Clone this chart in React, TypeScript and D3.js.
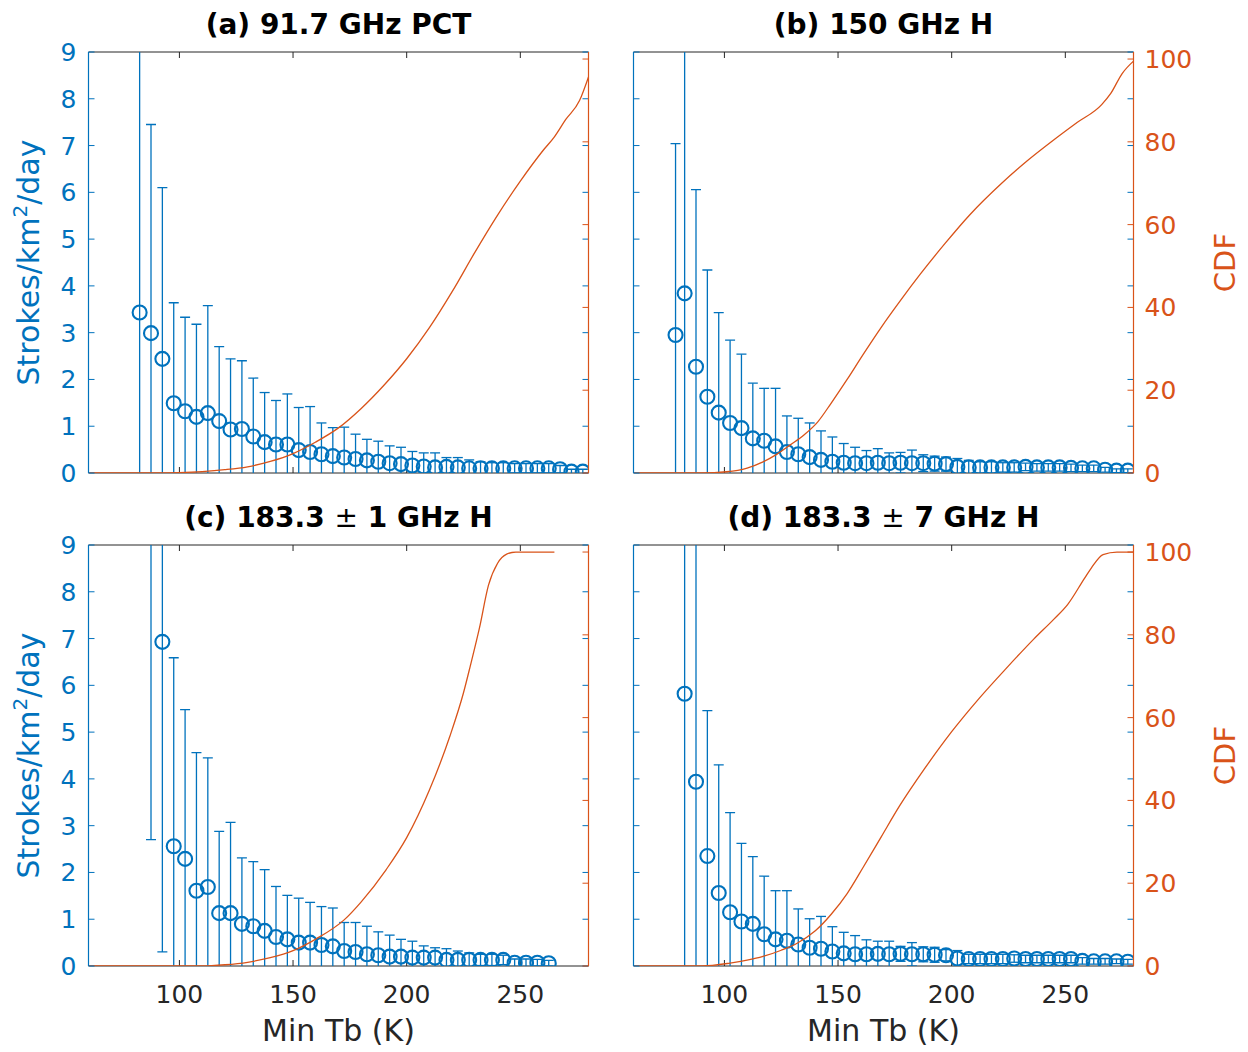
import * as d3 from 'd3'

const BLUE = '#0072BD'
const ORANGE = '#D95319'
const AXIS = '#262626'
const FONT = '"DejaVu Sans", sans-serif'

// bin centres of min Tb (K), shared by all four panels
const tbBins = [78.5, 82.5, 87.5, 92.5, 97.5, 102.5, 107.5, 112.5, 117.5, 122.5, 127.5, 132.5, 137.5, 142.5, 147.5, 152.5, 157.5, 162.5, 167.5, 172.5, 177.5, 182.5, 187.5, 192.5, 197.5, 202.5, 207.5, 212.5, 217.5, 222.5, 227.5, 232.5, 237.5, 242.5, 247.5, 252.5, 257.5, 262.5, 267.5, 272.5, 277.5]

// (a) 91.7 GHz PCT
const rateA = [null, 3.43, 2.99, 2.44, 1.49, 1.32, 1.2, 1.28, 1.11, 0.93, 0.94, 0.78, 0.66, 0.61, 0.61, 0.49, 0.45, 0.4, 0.36, 0.33, 0.3, 0.27, 0.24, 0.21, 0.19, 0.16, 0.14, 0.12, 0.13, 0.12, 0.1, 0.1, 0.1, 0.1, 0.1, 0.1, 0.1, 0.1, 0.08, 0.03, 0.03]
const errA = [null, 7.0, 4.46, 3.66, 2.15, 2.01, 1.98, 2.3, 1.59, 1.51, 1.46, 1.25, 1.06, 0.94, 1.08, 0.91, 0.97, 0.67, 0.61, 0.65, 0.53, 0.45, 0.44, 0.37, 0.36, 0.3, 0.29, 0.31, 0.2, 0.21, 0.18, 0.14, 0.12, 0.12, 0.1, 0.1, 0.1, 0.1, 0.08, 0.05, 0.05]
const cdfTbA = [60, 90, 100, 110, 120, 130, 140, 150, 160, 170, 180, 190, 200, 210, 220, 230, 240, 250, 260, 265, 270, 276, 280]
const cdfA = [0, 0, 0.1, 0.35, 0.8, 1.5, 2.8, 4.7, 7.5, 10.9, 15.6, 21.2, 27.6, 35.1, 43.8, 53.3, 62.3, 70.5, 77.9, 81.2, 85.4, 89.9, 95.7]

// (b) 150 GHz H
const rateB = [2.95, 3.84, 2.27, 1.63, 1.29, 1.07, 0.96, 0.74, 0.69, 0.57, 0.45, 0.4, 0.34, 0.28, 0.24, 0.22, 0.21, 0.21, 0.22, 0.21, 0.22, 0.21, 0.21, 0.2, 0.19, 0.13, 0.12, 0.12, 0.12, 0.12, 0.12, 0.13, 0.12, 0.12, 0.12, 0.11, 0.1, 0.1, 0.07, 0.05, 0.05]
const errB = [4.09, 6.5, 3.79, 2.71, 2.14, 1.77, 1.58, 1.18, 1.12, 1.24, 0.77, 0.77, 0.73, 0.62, 0.53, 0.41, 0.34, 0.27, 0.3, 0.22, 0.22, 0.28, 0.18, 0.16, 0.15, 0.18, 0.15, 0.12, 0.12, 0.1, 0.1, 0.08, 0.08, 0.08, 0.08, 0.08, 0.07, 0.07, 0.05, 0.04, 0.04]
const cdfTbB = [60, 90, 101, 110, 117, 123, 129, 135, 141, 147, 154, 161, 169, 177.5, 186, 197, 208, 222, 233, 245, 255, 266, 270, 275, 280]
const cdfB = [0, 0, 0.3, 1.2, 2.7, 4.5, 6.8, 9.2, 12.3, 16.9, 22.6, 28.6, 35.2, 41.7, 47.9, 55.4, 62.4, 70.0, 75.3, 80.5, 84.6, 89.0, 91.7, 96.5, 99.5]

// (c) 183.3 ± 1 GHz H
const rateC = [null, null, 11.0, 6.93, 2.56, 2.29, 1.61, 1.69, 1.13, 1.13, 0.9, 0.85, 0.75, 0.62, 0.57, 0.5, 0.5, 0.45, 0.42, 0.32, 0.3, 0.25, 0.23, 0.2, 0.2, 0.18, 0.18, 0.18, 0.13, 0.13, 0.13, 0.13, 0.13, 0.13, 0.07, 0.07, 0.07, 0.06, null, null, null]
const errC = [null, null, 8.3, 6.63, 4.03, 3.19, 2.95, 2.76, 1.75, 1.94, 1.41, 1.38, 1.31, 1.08, 0.94, 0.95, 0.86, 0.82, 0.82, 0.61, 0.63, 0.6, 0.5, 0.46, 0.37, 0.35, 0.25, 0.21, 0.24, 0.19, 0.15, 0.12, 0.12, 0.1, 0.08, 0.08, 0.07, 0.06, null, null, null]
const cdfTbC = [60, 110, 120, 130, 140, 150, 160, 172.6, 180, 191, 200, 210, 219, 225, 228, 232, 236, 240, 244, 248, 265]
const cdfC = [0, 0, 0.3, 0.9, 2, 3.7, 6.5, 11.2, 15.5, 23.3, 31, 42.5, 55.5, 66, 72.5, 81.6, 92, 97.3, 99.5, 100, 100]

// (d) 183.3 ± 7 GHz H
const rateD = [null, 5.82, 3.94, 2.35, 1.56, 1.15, 0.95, 0.9, 0.68, 0.57, 0.54, 0.46, 0.39, 0.37, 0.31, 0.27, 0.25, 0.25, 0.26, 0.25, 0.26, 0.25, 0.25, 0.24, 0.23, 0.16, 0.15, 0.15, 0.15, 0.15, 0.16, 0.15, 0.15, 0.15, 0.15, 0.15, 0.11, 0.1, 0.1, 0.1, 0.09]
const errD = [null, 7.0, 6.0, 3.11, 2.74, 2.13, 1.67, 1.44, 1.24, 1.04, 1.07, 0.76, 0.62, 0.69, 0.53, 0.45, 0.4, 0.31, 0.27, 0.28, 0.16, 0.25, 0.16, 0.16, 0.12, 0.17, 0.1, 0.1, 0.1, 0.1, 0.08, 0.08, 0.08, 0.08, 0.08, 0.08, 0.07, 0.06, 0.06, 0.05, 0.05]
const cdfTbD = [60, 90, 102.5, 110, 117, 125, 132, 140, 147, 154, 161, 169, 177, 188, 200, 212, 224, 236, 245, 251, 258.5, 261.5, 266.6, 272.7, 280]
const cdfD = [0, 0, 0.7, 1.4, 2.3, 3.8, 5.5, 8.5, 12.5, 17.5, 23.8, 31.2, 38.6, 47.6, 56.6, 64.6, 71.9, 78.9, 83.8, 87.3, 93.7, 96.2, 99.4, 100, 100]

const titles = ['(a) 91.7 GHz PCT', '(b) 150 GHz H', '(c) 183.3 ± 1 GHz H', '(d) 183.3 ± 7 GHz H']
const xLabel = 'Min Tb (K)'
const yLabel = ['Strokes/km', '2', '/day']
const y2Label = 'CDF'

const W = 500
const H = 421
const TICK = 6

const panels = [
  { id: 'a', title: titles[0], rate: rateA, err: errA, cdfTb: cdfTbA, cdf: cdfA, left: 88.5, top: 52, col: 0, row: 0 },
  { id: 'b', title: titles[1], rate: rateB, err: errB, cdfTb: cdfTbB, cdf: cdfB, left: 633.5, top: 52, col: 1, row: 0 },
  { id: 'c', title: titles[2], rate: rateC, err: errC, cdfTb: cdfTbC, cdf: cdfC, left: 88.5, top: 545, col: 0, row: 1 },
  { id: 'd', title: titles[3], rate: rateD, err: errD, cdfTb: cdfTbD, cdf: cdfD, left: 633.5, top: 545, col: 1, row: 1 },
]

function Title({ text }: { text: string }) {
  const parts = text.split('±')
  return (
    <text x={W / 2} y={-18} textAnchor="middle" fontFamily={FONT} fontSize={28} fontWeight="bold" fill="#000">
      {parts.length === 1 ? text : (
        <>
          {parts[0]}
          <tspan fontWeight="normal">±</tspan>
          {parts[1]}
        </>
      )}
    </text>
  )
}

function Panel({ p }: { p: any }) {
  const x = d3.scaleLinear().domain([60, 280]).range([0, W])
  const y = d3.scaleLinear().domain([0, 9]).range([H, 0])
  const yc = d3.scaleLinear().domain([0, 101.7]).range([H, 0])

  const cdfLine = d3.line<number>()
    .x((_, i) => x(p.cdfTb[i]))
    .y(d => yc(d))
    .curve(d3.curveMonotoneX)

  const pts = tbBins
    .map((tb, i) => ({ tb, v: p.rate[i], e: p.err[i] }))
    .filter(d => d.v != null)

  const clipId = `clip-${p.id}`
  const xTicks = x.ticks(5)
  const yTicks = y.ticks(9)
  const ycTicks = yc.ticks(5)

  return (
    <g transform={`translate(${p.left},${p.top})`}>
      <defs>
        <clipPath id={clipId}>
          <rect x={0} y={0} width={W} height={H} />
        </clipPath>
      </defs>

      {/* box */}
      <line x1={0} x2={W} y1={0} y2={0} stroke={AXIS} strokeWidth={1} />
      <line x1={0} x2={W} y1={H} y2={H} stroke={AXIS} strokeWidth={1} />
      {xTicks.map(t => (
        <g key={'xt' + t}>
          <line x1={x(t)} x2={x(t)} y1={H} y2={H - TICK} stroke={AXIS} />
          <line x1={x(t)} x2={x(t)} y1={0} y2={TICK} stroke={AXIS} />
        </g>
      ))}

      <g clipPath={`url(#${clipId})`}>
        {pts.map(d => {
          const cx = x(d.tb)
          const lo = y(d.v - d.e)
          const hi = y(d.v + d.e)
          return (
            <g key={'eb' + d.tb} stroke={BLUE} strokeWidth={1.3}>
              <line x1={cx} x2={cx} y1={lo} y2={hi} />
              <line x1={cx - 5} x2={cx + 5} y1={hi} y2={hi} />
              <line x1={cx - 5} x2={cx + 5} y1={lo} y2={lo} />
            </g>
          )
        })}
        {pts.map(d => (
          <circle key={'pt' + d.tb} cx={x(d.tb)} cy={y(d.v)} r={7} fill="none" stroke={BLUE} strokeWidth={2.1} />
        ))}
        <path d={cdfLine(p.cdf) || ''} fill="none" stroke={ORANGE} strokeWidth={1.3} />
      </g>

      {/* left axis */}
      <line x1={0} x2={0} y1={0} y2={H} stroke={BLUE} strokeWidth={1.2} />
      {yTicks.map(t => (
        <g key={'yt' + t}>
          <line x1={0} x2={TICK} y1={y(t)} y2={y(t)} stroke={BLUE} />
          <line x1={W} x2={W - TICK} y1={y(t)} y2={y(t)} stroke={BLUE} />
        </g>
      ))}
      {/* right axis */}
      <line x1={W} x2={W} y1={0} y2={H} stroke={ORANGE} strokeWidth={1.2} />
      {ycTicks.map(t => (
        <line key={'yc' + t} x1={W} x2={W - TICK} y1={yc(t)} y2={yc(t)} stroke={ORANGE} />
      ))}

      <Title text={p.title} />

      {p.col === 0 && (
        <g fontFamily={FONT} fontSize={25} fill={BLUE}>
          {yTicks.map(t => (
            <text key={'yl' + t} x={-12} y={y(t)} dy="0.36em" textAnchor="end">{t}</text>
          ))}
          <text transform={`translate(-50,${H / 2}) rotate(-90)`} textAnchor="middle" fontSize={30}>
            {yLabel[0]}
            <tspan dy={-12} fontSize={20}>{yLabel[1]}</tspan>
            <tspan dy={12}>{yLabel[2]}</tspan>
          </text>
        </g>
      )}
      {p.col === 1 && (
        <g fontFamily={FONT} fontSize={25} fill={ORANGE}>
          {ycTicks.map(t => (
            <text key={'rl' + t} x={W + 11} y={yc(t)} dy="0.36em" textAnchor="start">{t}</text>
          ))}
          <text transform={`translate(${W + 101},${H / 2}) rotate(-90)`} textAnchor="middle" fontSize={29}>{y2Label}</text>
        </g>
      )}
      {p.row === 1 && (
        <g fontFamily={FONT} fill={AXIS}>
          {xTicks.map(t => (
            <text key={'xl' + t} x={x(t)} y={H + 37} textAnchor="middle" fontSize={25}>{t}</text>
          ))}
          <text x={W / 2} y={H + 75} textAnchor="middle" fontSize={30}>{xLabel}</text>
        </g>
      )}
    </g>
  )
}

export default function App() {
  return (
    <div style={{ position: 'absolute', left: 0, top: 0 }}>
      <svg width={1248} height={1052} style={{ display: 'block', background: '#fff' }}>
        {panels.map(p => <Panel key={p.id} p={p} />)}
      </svg>
    </div>
  )
}
